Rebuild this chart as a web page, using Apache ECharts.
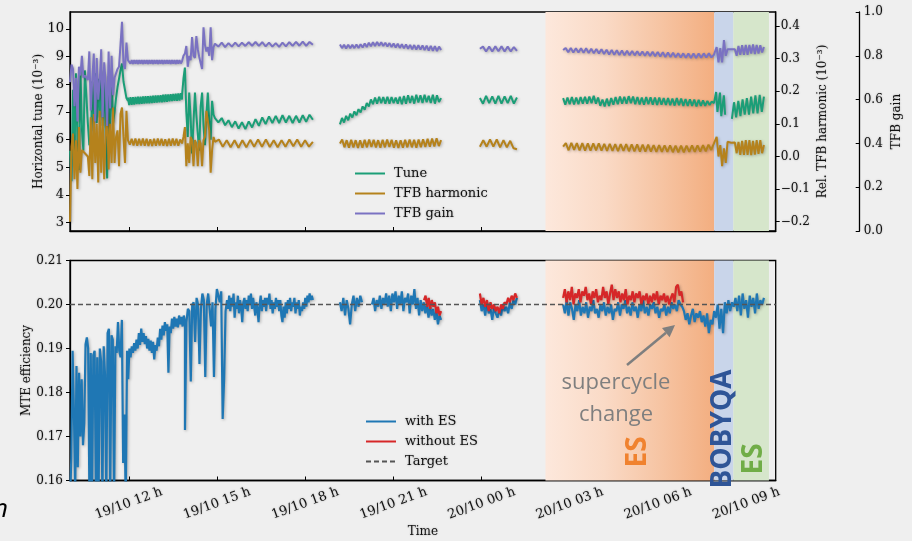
<!DOCTYPE html>
<html><head><meta charset="utf-8">
<script src="https://cdn.jsdelivr.net/npm/echarts@6/dist/echarts.min.js"></script>
<style>html,body{margin:0;padding:0;background:#efefef;}#c{width:912px;height:541px;}</style>
</head><body><div id="c"></div>
<script>
// ---------- DATA (time in hours from 19/10 00:00) ----------
const timeRange = [10, 34];
const timeTicks = [12, 15, 18, 21, 24, 27, 30, 33];
const tuneTicks = [3, 4, 5, 6, 7, 8, 9, 10];
const harmTicks = [-0.2, -0.1, 0, 0.1, 0.2, 0.3, 0.4];
const targetEff = 0.2;

// shaded phases
const esOrangeSpan = [26.17, 31.91];
const bobyqaSpan = [31.91, 32.56];
const esGreenSpan = [32.56, 33.77];

// top panel time spans of recorded pieces
const spanA1 = [10.0, 11.97], spanA2 = [11.97, 13.81], spanA3 = [13.81, 14.93], spanA4 = [14.93, 18.26];
const spanB = [19.18, 22.62], spanC = [23.94, 25.20], spanD = [26.77, 31.90];
const spanE = [31.93, 33.60], spanE1 = [31.93, 32.28], spanE2 = [32.51, 33.60];

// Tune (10^-3)
const tuneA1 = [5.6,4.5,7.8,5.2,8.4,6.0,4.9,8.6,6.4,5.6,8.5,7.6,6.6,5.8,5.9,8.1,6.3,8.4,6.6,8.2,6.8,8.5,6.5,8.4,6.3,4.6,8.3,6.5,8.4,6.6,7.0,7.5,7.9,8.2,8.5,8.75,8.1,7.8,7.5,7.4];
const tuneA2 = [7.52,7.25,7.53,7.26,7.53,7.27,7.54,7.28,7.55,7.28,7.55,7.29,7.56,7.30,7.57,7.31,7.57,7.31,7.58,7.32,7.59,7.33,7.60,7.34,7.60,7.35,7.61,7.35,7.62,7.36,7.63,7.37,7.63,7.38,7.64,7.39,7.65,7.40,7.66,7.40,7.67,7.41,7.68,7.45];
const tuneA3 = [7.6,8.2,8.6,7.0,6.1,7.7,6.8,5.5,6.6,7.7,6.9,6.2,5.6,7.2,7.7,6.5,5.8,6.9,7.7,6.7,6.0,7.4,6.9,6.78];
const tuneA4 = [6.85,6.62,6.78,6.52,6.70,6.45,6.66,6.40,6.63,6.38,6.66,6.44,6.74,6.50,6.80,6.56,6.84,6.60,6.86,6.60,6.88,6.62,6.86,6.60,6.86,6.62,6.88,6.64,6.90,6.72];
const tuneB = [6.55,6.78,6.62,6.86,6.70,6.94,6.80,7.02,6.88,7.10,6.98,7.20,7.08,7.32,7.20,7.45,7.28,7.52,7.30,7.55,7.32,7.54,7.30,7.55,7.30,7.54,7.32,7.52,7.30,7.55,7.28,7.58,7.30,7.60,7.32,7.58,7.30,7.62,7.34,7.60,7.32,7.62,7.35,7.58,7.32,7.62,7.30,7.60,7.36,7.50];
const tuneC = [7.50,7.30,7.58,7.32,7.56,7.30,7.58,7.30,7.56,7.32,7.58,7.30,7.52];
const tuneD = [7.50,7.26,7.52,7.28,7.54,7.27,7.52,7.28,7.54,7.30,7.55,7.30,7.56,7.32,7.58,7.30,7.52,7.22,7.45,7.20,7.48,7.22,7.50,7.26,7.54,7.28,7.56,7.30,7.55,7.30,7.57,7.32,7.56,7.28,7.54,7.27,7.52,7.26,7.54,7.28,7.53,7.26,7.52,7.25,7.52,7.26,7.50,7.25,7.50,7.24,7.48,7.23,7.50,7.24,7.48,7.22,7.47,7.22,7.46,7.22,7.45,7.20,7.44,7.22,7.42,7.22,7.40,7.25,7.38,7.32];
const tuneE1 = [7.35,7.72,7.0,6.95,7.70,6.85,6.82,7.60,6.90];
const tuneE2 = [6.75,7.35,6.80,7.40,6.85,7.45,6.90,7.50,6.90,7.55,6.95,7.60,6.95,7.62,7.00,7.55];

// Rel. TFB harmonic (10^-3)
const harmA1 = [-0.20,0.03,0.07,-0.07,0.05,-0.10,0.09,-0.05,0.02,0.015,0.01,0.005,0.0,-0.06,0.12,-0.07,0.13,-0.02,0.10,-0.08,0.14,-0.05,0.12,-0.07,0.06,0.14,-0.04,0.10,-0.02,0.15,-0.02,0.06,0.08,-0.03,0.13,0.15,0.06,-0.02,0.14,0.05];
const harmA2 = [0.052,0.036,0.054,0.034,0.055,0.033,0.054,0.034,0.055,0.033,0.054,0.032,0.053,0.032,0.054,0.033,0.055,0.034,0.054,0.033,0.053,0.032,0.054,0.033,0.055,0.034,0.054,0.033,0.052,0.040];
const harmA3 = [0.045,0.06,0.09,-0.03,0.04,-0.02,0.06,0.05,-0.03,0.05,0.04,-0.03,0.05,0.04,-0.03,0.05,0.06,0.14,0.11,0.08,-0.05,0.02,0.06,0.045];
const harmA4 = [0.040,0.052,0.030,0.050,0.028,0.050,0.027,0.050,0.028,0.051,0.030,0.052,0.030,0.052,0.029,0.050,0.028,0.050,0.030,0.052,0.031,0.052,0.030,0.050,0.030,0.045];
const harmB = [0.040,0.052,0.028,0.050,0.027,0.051,0.028,0.050,0.026,0.050,0.027,0.051,0.028,0.052,0.029,0.051,0.028,0.050,0.027,0.051,0.028,0.052,0.029,0.051,0.027,0.050,0.026,0.050,0.027,0.051,0.028,0.052,0.028,0.051,0.027,0.052,0.028,0.053,0.029,0.054,0.030,0.055,0.031,0.056,0.032,0.050];
const harmC = [0.030,0.050,0.030,0.052,0.030,0.052,0.028,0.050,0.028,0.048,0.025,0.022];
const harmD = [0.030,0.041,0.019,0.042,0.020,0.041,0.019,0.041,0.018,0.040,0.018,0.040,0.019,0.040,0.018,0.039,0.017,0.039,0.017,0.038,0.016,0.038,0.017,0.038,0.016,0.037,0.016,0.037,0.015,0.036,0.015,0.036,0.015,0.035,0.014,0.035,0.014,0.034,0.014,0.034,0.013,0.033,0.013,0.033,0.013,0.033,0.014,0.034,0.014,0.034,0.015,0.035,0.016,0.036,0.020,0.040];
const harmE = [0.04,0.06,0.0,0.035,-0.03,0.025,-0.02,0.045,0.042,0.042,0.042,0.043,0.01,0.045,0.005,0.048,0.005,0.05,0.005,0.05,0.004,0.048,0.006,0.05,0.008,0.05,0.01,0.035];

// TFB gain
const gainA1 = [0.68,0.76,0.74,0.57,0.70,0.50,0.75,0.71,0.80,0.70,0.71,0.70,0.69,0.82,0.55,0.69,0.81,0.50,0.79,0.60,0.68,0.83,0.52,0.77,0.68,0.48,0.82,0.56,0.80,0.62,0.70,0.72,0.74,0.75,0.85,0.955,0.76,0.74,0.86,0.78];
const gainA2 = [0.772,0.781,0.764,0.780,0.763,0.781,0.764,0.780,0.763,0.781,0.764,0.781,0.763,0.780,0.764,0.781,0.763,0.780,0.764,0.781,0.763,0.780,0.764,0.781,0.763,0.780,0.764,0.781,0.763,0.780,0.764,0.781,0.764,0.780,0.763,0.781,0.764,0.780,0.763,0.781,0.764,0.780,0.765,0.775];
const gainA3 = [0.775,0.80,0.81,0.845,0.75,0.80,0.78,0.885,0.80,0.79,0.89,0.83,0.795,0.80,0.74,0.93,0.85,0.82,0.84,0.80,0.93,0.78,0.84,0.855];
const gainA4 = [0.862,0.842,0.860,0.840,0.858,0.842,0.860,0.843,0.860,0.845,0.862,0.846,0.863,0.845,0.862,0.843,0.860,0.842,0.858,0.841,0.860,0.843,0.862,0.845,0.864,0.846,0.865,0.845,0.863,0.850];
const gainB = [0.852,0.835,0.850,0.833,0.851,0.834,0.850,0.835,0.852,0.836,0.853,0.838,0.856,0.840,0.860,0.843,0.862,0.845,0.863,0.846,0.862,0.845,0.860,0.842,0.858,0.840,0.856,0.838,0.855,0.836,0.853,0.834,0.852,0.832,0.850,0.830,0.849,0.829,0.848,0.828,0.847,0.826,0.846,0.824,0.845,0.823,0.844,0.822,0.842,0.826];
const gainC = [0.832,0.842,0.820,0.842,0.820,0.843,0.821,0.843,0.820,0.842,0.820,0.840,0.822];
const gainD = [0.826,0.836,0.816,0.836,0.815,0.835,0.815,0.834,0.814,0.834,0.813,0.832,0.812,0.831,0.811,0.830,0.808,0.828,0.806,0.826,0.805,0.825,0.804,0.824,0.803,0.823,0.803,0.822,0.802,0.821,0.801,0.820,0.800,0.819,0.799,0.818,0.798,0.817,0.797,0.816,0.795,0.815,0.794,0.814,0.793,0.812,0.792,0.811,0.791,0.810,0.790,0.810,0.790,0.810,0.791,0.811,0.792,0.811,0.793,0.805];
const gainE = [0.805,0.84,0.77,0.835,0.77,0.872,0.80,0.83,0.83,0.83,0.83,0.83,0.80,0.845,0.805,0.848,0.805,0.85,0.805,0.85,0.81,0.852,0.808,0.85,0.81,0.848,0.815,0.84];

// bottom panel: MTE efficiency
const effSpanA1 = [10.0, 11.94], effSpanA2 = [11.94, 13.91], effSpanA3 = [13.91, 15.34], effSpanA4 = [15.34, 18.26];
const effSpanB1 = [19.18, 19.93], effSpanB2 = [20.27, 22.62], effSpanRedB = [22.04, 22.62];
const effSpanC = [23.94, 25.20], effSpanRedD = [26.77, 30.85], effSpanD = [26.77, 33.60];

const withEsA1 = [0.155,0.165,0.1895,0.176,0.157,0.186,0.163,0.1845,0.170,0.183,0.168,0.173,0.191,0.1925,0.190,0.155,0.189,0.155,0.1885,0.1895,0.155,0.188,0.155,0.190,0.187,0.155,0.1905,0.184,0.155,0.1935,0.1945,0.155,0.193,0.192,0.155,0.1905,0.189,0.196,0.1895,0.188,0.1965,0.164,0.175,0.155,0.189];
const withEsA2 = [0.1895,0.1830,0.1900,0.1880,0.1905,0.1890,0.1912,0.1895,0.1920,0.1900,0.1935,0.1908,0.1945,0.1915,0.1935,0.1910,0.1928,0.1900,0.1922,0.1895,0.1918,0.1890,0.1915,0.1875,0.1908,0.1895,0.1925,0.1905,0.1945,0.1920,0.1952,0.1930,0.1960,0.1940,0.1955,0.1845,0.1950,0.1935,0.1968,0.1945,0.1972,0.1950,0.1968,0.1948,0.1975,0.1955,0.1972,0.1950,0.1975,0.1960];
const withEsA3 = [0.1715,0.196,0.199,0.1985,0.1825,0.200,0.2005,0.1915,0.2015,0.200,0.1865,0.199,0.2025,0.201,0.1835,0.200,0.2025,0.199,0.195,0.2005,0.1835,0.199,0.2035,0.2035,0.2005,0.2030,0.174,0.183,0.1985,0.201];
const withEsA4 = [0.2010,0.1990,0.2020,0.1985,0.2015,0.1995,0.2025,0.1970,0.2005,0.1990,0.2020,0.1980,0.2010,0.1995,0.1960,0.2005,0.2015,0.1990,0.2010,0.1985,0.2020,0.2000,0.2025,0.1990,0.2015,0.1995,0.1975,0.2005,0.1990,0.1960,0.2000,0.2020,0.1985,0.2010,0.1995,0.2015,0.1985,0.2015,0.2000,0.2025,0.1990,0.2010,0.1980,0.2005,0.1990,0.2015,0.1995,0.2010,0.1985,0.2010,0.1975,0.1960,0.1995,0.1970,0.2005,0.1980,0.2010,0.1990,0.2015,0.1985,0.2005,0.1995,0.2015,0.1980,0.2005,0.1990,0.2010,0.1975,0.1995,0.1985,0.2005,0.1990,0.2015,0.1995,0.2020,0.2005,0.2025,0.2010,0.2020,0.2010];
const withEsB1 = [0.2005,0.1985,0.2015,0.1975,0.2010,0.1990,0.1955,0.2000,0.2020,0.1985,0.2015,0.1995,0.2020,0.2005];
const withEsB2 = [0.2000,0.2015,0.1985,0.2010,0.1995,0.2020,0.1990,0.2015,0.2000,0.2025,0.1995,0.2020,0.1985,0.2025,0.2005,0.2030,0.1990,0.2020,0.2000,0.2030,0.1985,0.2015,0.2005,0.2025,0.1980,0.2020,0.2000,0.2035,0.1990,0.2015,0.1975,0.2010,0.1985,0.2005,0.1980,0.2000,0.1970,0.1995,0.1975,0.1990,0.1965,0.1985,0.1955,0.1975,0.1965];
const withEsC = [0.2010,0.1985,0.2000,0.1975,0.2005,0.1980,0.1990,0.1965,0.1995,0.1980,0.1970,0.1990,0.1975,0.2000,0.1985,0.1995,0.1980,0.2005,0.1990,0.2010,0.2000,0.2015];
const withEsD = [0.2000,0.1980,0.2010,0.1975,0.2005,0.1990,0.1965,0.2000,0.1985,0.2010,0.1975,0.1995,0.1980,0.2005,0.1970,0.1995,0.1985,0.2010,0.1980,0.1990,0.1970,0.2000,0.1985,0.2005,0.1975,0.1995,0.1980,0.2000,0.1965,0.1990,0.1985,0.2005,0.1975,0.2000,0.1990,0.2010,0.1980,0.1995,0.1975,0.2005,0.1985,0.1995,0.1970,0.2000,0.1985,0.2010,0.1980,0.1995,0.1975,0.2000,0.1990,0.2005,0.1980,0.1995,0.1970,0.1990,0.1985,0.2000,0.1975,0.1995,0.1980,0.2005,0.1990,0.2000,0.1985,0.2010,0.2000,0.1995,
  0.1985,0.1965,0.1980,0.1955,0.1975,0.1990,0.1960,0.1980,0.1970,0.1985,0.1960,0.1975,0.1950,0.1980,0.1935,0.1965,0.1955,
  0.1985,0.1970,0.2000,0.1945,0.1990,0.1935,0.2005,0.1980,0.2010,0.1985,0.2005,
  0.1995,0.2015,0.1985,0.2020,0.1975,0.2025,0.1990,0.2010,0.1970,0.2020,0.1995,0.2015,0.1980,0.2025,0.1990,0.2010,0.2000,0.2015];
const withoutEsB = [0.2010,0.2020,0.1995,0.2015,0.1990,0.2010,0.1995,0.2005,0.1980,0.1995,0.1975,0.1985];
const withoutEsC = [0.2025,0.2000,0.2015,0.1995,0.2010,0.1985,0.2005,0.1990,0.2000,0.1985,0.1995,0.1980,0.2000,0.1990,0.2005,0.2000,0.2015,0.2005,0.2020,0.2010,0.2025,0.2015];
const withoutEsD = [0.2015,0.2035,0.2005,0.2030,0.2010,0.2040,0.2000,0.2025,0.2015,0.2035,0.2005,0.2030,0.2020,0.2040,0.2010,0.2025,0.2000,0.2030,0.2015,0.2035,0.2005,0.2020,0.2010,0.2040,0.2015,0.2030,0.2000,0.2025,0.2045,0.2010,0.2035,0.2015,0.2030,0.2005,0.2025,0.2010,0.2035,0.2000,0.2020,0.2010,0.2030,0.2005,0.2025,0.2015,0.2030,0.2000,0.2020,0.2010,0.2025,0.2000,0.2020,0.2005,0.2025,0.2010,0.2030,0.2000,0.2020,0.2010,0.2025,0.2005,0.2020,0.2000,0.2015,0.2025,0.2005,0.2040,0.2045,0.2020,0.2030,0.2005];

// ---------- helpers ----------
function seg(span, vals) {
  const t0 = span[0], t1 = span[1];
  return vals.map((v, i) => [t0 + (t1 - t0) * i / (vals.length - 1), v]);
}
function join(...parts) {
  const out = [];
  parts.forEach(p => {
    if (p === 'gap') { out.push([out[out.length - 1][0] + 0.01, '-']); }
    else out.push(...p);
  });
  return out;
}

const SERIF = 'DejaVu Serif';
const SANS = '"Open Sans"';
const TS = { textShadowColor: 'rgba(0,0,0,0.3)', textShadowBlur: 2 };
const lblStyle = Object.assign({ fontFamily: SERIF, fontSize: 12, color: '#111' }, TS);
const nameStyle = Object.assign({ fontFamily: SERIF, fontSize: 12, color: '#111' }, TS);
const shadowLine = { shadowColor: 'rgba(0,0,0,0.28)', shadowBlur: 3, shadowOffsetX: 1, shadowOffsetY: 1 };
function ls(color, w) { return Object.assign({ color: color, width: w }, shadowLine); }

const orangeGrad = { type: 'linear', x: 0, y: 0, x2: 1, y2: 0, colorStops: [
  { offset: 0, color: '#fde8dc' }, { offset: 0.35, color: '#fadac6' },
  { offset: 0.7, color: '#f6c3a1' }, { offset: 1, color: '#f3ae80' }] };
function shading() {
  return { silent: true, data: [
    [{ xAxis: esOrangeSpan[0], itemStyle: { color: orangeGrad } }, { xAxis: esOrangeSpan[1] }],
    [{ xAxis: bobyqaSpan[0], itemStyle: { color: '#c9d5ea' } }, { xAxis: bobyqaSpan[1] }],
    [{ xAxis: esGreenSpan[0], itemStyle: { color: '#d6e6cb' } }, { xAxis: esGreenSpan[1] }]
  ] };
}

function timeLabel(v) {
  const day = v < 24 ? '19/10' : '20/10';
  const h = Math.round(v % 24);
  return day + ' ' + (h < 10 ? '0' + h : h) + ' h';
}
const fmtMinus = d => v => v.toFixed(d).replace('-', '\u2212');

const axisLineBlack = { onZero: false, lineStyle: { color: '#000', width: 1.3 } };
const legendCommon = { orient: 'vertical', padding: 0, itemWidth: 30, itemHeight: 14, itemGap: 7,
  itemStyle: { color: 'rgba(0,0,0,0)', borderColor: 'rgba(0,0,0,0)', borderWidth: 0, opacity: 0 },
  textStyle: Object.assign({ fontFamily: SERIF, fontSize: 13, color: '#111', padding: [0, 0, 0, 4] }, TS) };

const option = {
  animation: false,
  backgroundColor: '#efefef',
  grid: [
    { left: 70, top: 12, width: 705.7, height: 219, show: true, borderColor: '#000', borderWidth: 1.3, backgroundColor: 'transparent' },
    { left: 70, top: 260.5, width: 705.7, height: 220, show: true, borderColor: '#000', borderWidth: 1.3, backgroundColor: 'transparent' }
  ],
  xAxis: [
    { gridIndex: 0, type: 'value', min: timeRange[0], max: timeRange[1], axisLine: axisLineBlack,
      axisTick: { inside: true, length: 4, customValues: timeTicks, lineStyle: { color: '#000' } },
      axisLabel: { show: false, customValues: timeTicks }, splitLine: { show: false } },
    { gridIndex: 1, type: 'value', min: timeRange[0], max: timeRange[1], axisLine: axisLineBlack,
      axisTick: { inside: true, length: 4, customValues: timeTicks, lineStyle: { color: '#000' } },
      axisLabel: Object.assign({ customValues: timeTicks, formatter: timeLabel, rotate: 20, align: 'center', verticalAlign: 'middle', margin: 23 }, lblStyle, { fontSize: 13 }),
      splitLine: { show: false },
      name: 'Time', nameLocation: 'middle', nameGap: 45, nameMoveOverlap: false, nameTextStyle: nameStyle }
  ],
  yAxis: [
    { gridIndex: 0, type: 'value', position: 'left', min: 2.7, max: 10.61, axisLine: Object.assign({ show: true }, axisLineBlack),
      axisTick: { show: true, length: 4, customValues: tuneTicks, lineStyle: { color: '#000' } },
      axisLabel: Object.assign({ customValues: tuneTicks, margin: 6 }, lblStyle, { fontSize: 13 }), splitLine: { show: false },
      name: 'Horizontal tune (10\u207B\u00B3)', nameLocation: 'middle', nameRotate: 90, nameGap: 25, nameMoveOverlap: false, nameTextStyle: nameStyle },
    { gridIndex: 0, type: 'value', position: 'right', min: -0.2285, max: 0.443, axisLine: Object.assign({ show: true }, axisLineBlack),
      axisTick: { show: true, length: 4, customValues: harmTicks, lineStyle: { color: '#000' } },
      axisLabel: Object.assign({ customValues: harmTicks, formatter: fmtMinus(1), margin: 5 }, lblStyle), splitLine: { show: false },
      name: 'Rel. TFB harmonic (10\u207B\u00B3)', nameLocation: 'middle', nameRotate: 90, nameGap: 41, nameMoveOverlap: false, nameTextStyle: nameStyle },
    { gridIndex: 0, type: 'value', position: 'right', offset: 84, min: 0, max: 1, interval: 0.2, axisLine: Object.assign({ show: true }, axisLineBlack),
      axisTick: { show: true, inside: true, length: 4, lineStyle: { color: '#000' } },
      axisLabel: Object.assign({ formatter: fmtMinus(1), margin: 4 }, lblStyle), splitLine: { show: false },
      name: 'TFB gain', nameLocation: 'middle', nameRotate: 90, nameGap: 31, nameMoveOverlap: false, nameTextStyle: nameStyle },
    { gridIndex: 1, type: 'value', min: 0.16, max: 0.21, interval: 0.01, axisLine: Object.assign({ show: true }, axisLineBlack),
      axisTick: { show: true, length: 4, lineStyle: { color: '#000' } },
      axisLabel: Object.assign({ formatter: fmtMinus(2), margin: 7 }, lblStyle), splitLine: { show: false },
      name: 'MTE efficiency', nameLocation: 'middle', nameRotate: 90, nameGap: 37, nameMoveOverlap: false, nameTextStyle: nameStyle }
  ],
  legend: [
    Object.assign({ data: ['Tune', 'TFB harmonic', 'TFB gain'], left: 354, top: 167 }, legendCommon),
    Object.assign({ data: ['with ES', 'without ES', 'Target'], left: 365, top: 415 }, legendCommon)
  ],
  series: [
    { name: 'Tune', type: 'line', xAxisIndex: 0, yAxisIndex: 0, symbol: 'none', z: 3,
      data: join(seg(spanA1, tuneA1), seg(spanA2, tuneA2), seg(spanA3, tuneA3), seg(spanA4, tuneA4), 'gap',
                 seg(spanB, tuneB), 'gap', seg(spanC, tuneC), 'gap', seg(spanD, tuneD), seg(spanE1, tuneE1), 'gap', seg(spanE2, tuneE2)),
      lineStyle: ls('#1b9e77', 2), itemStyle: { color: '#1b9e77' }, markArea: shading() },
    { name: 'TFB harmonic', type: 'line', xAxisIndex: 0, yAxisIndex: 1, symbol: 'none', z: 3,
      data: join(seg(spanA1, harmA1), seg(spanA2, harmA2), seg(spanA3, harmA3), seg(spanA4, harmA4), 'gap',
                 seg(spanB, harmB), 'gap', seg(spanC, harmC), 'gap', seg(spanD, harmD), seg(spanE, harmE)),
      lineStyle: ls('#b5821c', 2), itemStyle: { color: '#b5821c' } },
    { name: 'TFB gain', type: 'line', xAxisIndex: 0, yAxisIndex: 2, symbol: 'none', z: 3,
      data: join(seg(spanA1, gainA1), seg(spanA2, gainA2), seg(spanA3, gainA3), seg(spanA4, gainA4), 'gap',
                 seg(spanB, gainB), 'gap', seg(spanC, gainC), 'gap', seg(spanD, gainD), seg(spanE, gainE)),
      lineStyle: ls('#7a72c2', 2), itemStyle: { color: '#7a72c2' } },
    { name: 'with ES', type: 'line', xAxisIndex: 1, yAxisIndex: 3, symbol: 'none', z: 3,
      data: join(seg(effSpanA1, withEsA1), seg(effSpanA2, withEsA2), seg(effSpanA3, withEsA3), seg(effSpanA4, withEsA4), 'gap',
                 seg(effSpanB1, withEsB1), 'gap', seg(effSpanB2, withEsB2), 'gap', seg(effSpanC, withEsC), 'gap', seg(effSpanD, withEsD)),
      lineStyle: ls('#1f77b4', 2.2), itemStyle: { color: '#1f77b4' }, markArea: shading() },
    { name: 'without ES', type: 'line', xAxisIndex: 1, yAxisIndex: 3, symbol: 'none', z: 4,
      data: join(seg(effSpanRedB, withoutEsB), 'gap', seg(effSpanC, withoutEsC), 'gap', seg(effSpanRedD, withoutEsD)),
      lineStyle: ls('#d62728', 2.2), itemStyle: { color: '#d62728' } },
    { name: 'Target', type: 'line', xAxisIndex: 1, yAxisIndex: 3, symbol: 'none', z: 5,
      data: [[timeRange[0], targetEff], [timeRange[1], targetEff]],
      lineStyle: { color: '#555', width: 1.5, type: [5, 3] }, itemStyle: { color: '#555' } }
  ],
  graphic: [
    { type: 'text', x: 616, y: 399, z: 100, style: { text: 'supercycle\nchange', fill: '#7f7f7f', font: '22px ' + SANS, align: 'center', verticalAlign: 'middle', lineHeight: 32 } },
    { type: 'line', z: 100, shape: { x1: 627, y1: 365, x2: 666, y2: 332.7 }, style: { stroke: '#7f7f7f', lineWidth: 2.5 } },
    { type: 'polygon', z: 100, shape: { points: [[675, 325], [669.6, 337.3], [662, 328.1]] }, style: { fill: '#7f7f7f' } },
    { type: 'text', x: 638.5, y: 452, rotation: Math.PI / 2, z: 100, style: { text: 'ES', fill: '#f0822f', font: 'bold 28px ' + SANS, align: 'center', verticalAlign: 'middle' } },
    { type: 'text', x: 723.5, y: 429, rotation: Math.PI / 2, z: 100, style: { text: 'BOBYQA', fill: '#2f5597', font: 'bold 28px ' + SANS, align: 'center', verticalAlign: 'middle' } },
    { type: 'text', x: 754, y: 459, rotation: Math.PI / 2, z: 100, style: { text: 'ES', fill: '#70ad47', font: 'bold 28px ' + SANS, align: 'center', verticalAlign: 'middle' } },
    { type: 'text', x: 8, y: 510, z: 100, style: { text: 'n', fill: '#000', font: 'italic 26px ' + SANS, align: 'right', verticalAlign: 'middle' } }
  ]
};

const chart = echarts.init(document.getElementById('c'), null, { renderer: 'canvas' });
chart.setOption(option);
</script></body></html>
